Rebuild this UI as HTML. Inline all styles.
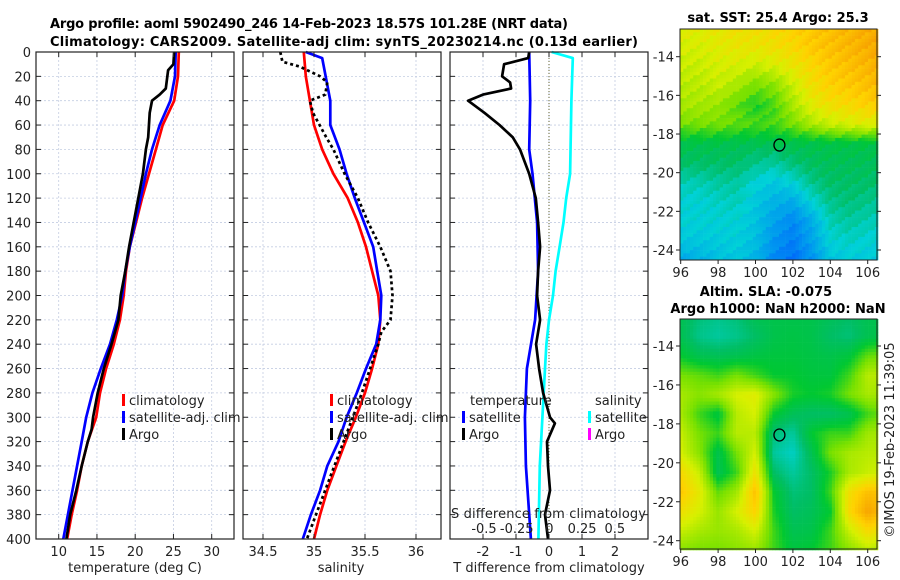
<!DOCTYPE html>
<html><head><meta charset="utf-8"><style>
html,body{margin:0;padding:0;background:#fff;}
svg{display:block;font-family:"DejaVu Sans","Liberation Sans",sans-serif;}
.tk{font-size:13px;fill:#222;}
.ttl{font-size:13px;font-weight:bold;fill:#000;}
</style></head><body>
<svg id="fig" width="900" height="580" viewBox="0 0 900 580" xmlns="http://www.w3.org/2000/svg">
<g id="grids"></g>
<g id="marks"></g>
<g id="maps"></g>
<g id="axes"></g>
<text class="ttl" x="50" y="28" textLength="518">Argo profile: aoml 5902490_246 14-Feb-2023 18.57S 101.28E (NRT data)</text>
<text class="ttl" x="50" y="46" textLength="588">Climatology: CARS2009. Satellite-adj clim: synTS_20230214.nc (0.13d earlier)</text>
<text class="ttl" x="778" y="22" text-anchor="middle">sat. SST: 25.4 Argo: 25.3</text>
<text class="ttl" x="766" y="296" text-anchor="middle">Altim. SLA: -0.075</text>
<text class="ttl" x="778" y="313" text-anchor="middle">Argo h1000: NaN h2000: NaN</text>
<text class="tk" transform="translate(894,440) rotate(-90)" text-anchor="middle">©IMOS 19-Feb-2023 11:39:05</text>
</svg>
<script>
const NS="http://www.w3.org/2000/svg";
// ---- data ----
const depths=[0,20,40,60,80,100,120,140,160,180,200,220,240,260,280,300,320,340,360,380,400];
const tempClim=[25.7,25.6,25.1,23.6,22.7,21.8,20.9,20.1,19.3,18.8,18.5,18.0,17.2,16.2,15.4,14.9,13.8,13.0,12.4,11.7,11.1];
const tempSat=[25.3,25.2,24.6,23.2,22.2,21.4,20.7,20.0,19.3,18.7,18.3,17.6,16.7,15.5,14.4,13.6,13.0,12.4,11.8,11.2,10.6];
const argoDepths=[0,10,15,30,35,40,50,70,80,100,120,140,160,180,200,220,240,260,280,300,310,320,340,360,380,400];
const tempArgo=[25.1,25.0,24.3,24.0,23.2,22.2,21.9,21.7,21.4,21.0,20.4,19.8,19.2,18.7,18.1,17.8,16.9,15.9,15.1,14.5,14.3,13.8,13.0,12.3,11.5,11.0];
const salClim=[34.90,34.92,34.96,35.00,35.08,35.19,35.33,35.43,35.51,35.57,35.63,35.65,35.63,35.57,35.50,35.41,35.31,35.22,35.13,35.06,35.00];
const salSatDepths=[0,5,40,60,80,100,120,140,160,180,200,220,240,260,280,300,320,340,360,380,400];
const salSat=[34.92,35.08,35.16,35.16,35.25,35.32,35.40,35.49,35.58,35.62,35.66,35.65,35.61,35.51,35.42,35.32,35.24,35.13,35.06,34.97,34.89];
const salArgoDepths=[0,8,12,20,25,35,40,50,70,80,100,120,140,160,180,200,220,230,240,260,280,300,320,340,360,380,400];
const salArgo=[34.67,34.69,34.86,35.06,35.13,35.11,34.96,34.99,35.12,35.19,35.30,35.43,35.53,35.65,35.75,35.77,35.75,35.66,35.63,35.55,35.47,35.38,35.29,35.20,35.11,35.02,34.93];
const tdSatDepths=[0,40,80,100,140,180,220,260,300,340,400];
const tdSat=[-0.6,-0.57,-0.6,-0.5,-0.36,-0.33,-0.42,-0.67,-0.73,-0.7,-0.55];
const tdArgoDepths=[0,5,10,20,25,30,35,40,50,60,70,80,100,120,140,160,180,200,220,240,260,280,300,305,320,340,360,380,400];
const tdArgo=[-0.6,-0.63,-1.36,-1.42,-1.18,-1.15,-2.0,-2.45,-1.95,-1.5,-1.1,-0.88,-0.6,-0.4,-0.33,-0.27,-0.33,-0.36,-0.27,-0.39,-0.3,-0.18,0.03,0.18,-0.06,-0.03,0.03,-0.12,-0.03];
const sdSatDepths=[0,5,40,100,120,140,160,180,200,220,240,260,300,340,400];
const sdSat=[0.02,0.18,0.17,0.16,0.13,0.11,0.08,0.05,0.03,0,-0.02,-0.03,-0.05,-0.07,-0.08];
const tempTicks=[10,15,20,25,30];
const salTicks=[34.5,35,35.5,36];
const tdTicks=[-2,-1,0,1,2];
const sdTickLabels=["-0.5","-0.25","0","0.25","0.5"];
const depthTicks=[0,20,40,60,80,100,120,140,160,180,200,220,240,260,280,300,320,340,360,380,400];
const lonTicks=[96,98,100,102,104,106];
const latTicks=[-14,-16,-18,-20,-22,-24];
const sstGrid=[
[0.74,0.74,0.76,0.78,0.78,0.8,0.82,0.84,0.86,0.88,0.9,0.92],
[0.72,0.72,0.74,0.76,0.76,0.78,0.8,0.84,0.86,0.88,0.9,0.92],
[0.7,0.7,0.72,0.72,0.7,0.72,0.76,0.8,0.84,0.86,0.88,0.9],
[0.68,0.68,0.7,0.66,0.6,0.62,0.7,0.78,0.82,0.84,0.86,0.88],
[0.66,0.66,0.64,0.58,0.52,0.56,0.66,0.74,0.78,0.8,0.82,0.84],
[0.6,0.6,0.6,0.58,0.56,0.56,0.6,0.66,0.7,0.72,0.74,0.7],
[0.46,0.46,0.46,0.45,0.45,0.45,0.46,0.46,0.47,0.47,0.47,0.46],
[0.42,0.42,0.42,0.42,0.38,0.36,0.4,0.43,0.44,0.44,0.44,0.43],
[0.34,0.34,0.36,0.36,0.3,0.27,0.3,0.38,0.42,0.42,0.42,0.4],
[0.3,0.3,0.32,0.33,0.27,0.22,0.2,0.3,0.38,0.4,0.38,0.36],
[0.3,0.3,0.3,0.3,0.26,0.18,0.12,0.2,0.34,0.36,0.34,0.32],
[0.27,0.27,0.28,0.29,0.25,0.15,0.1,0.18,0.3,0.32,0.3,0.3],
[0.2,0.22,0.25,0.27,0.22,0.12,0.07,0.14,0.26,0.28,0.28,0.28]];
const slaGrid=[
[0.45,0.4,0.38,0.4,0.45,0.46,0.46,0.46,0.44,0.42,0.45,0.46],
[0.45,0.38,0.36,0.38,0.42,0.46,0.47,0.46,0.42,0.4,0.45,0.47],
[0.5,0.45,0.44,0.45,0.47,0.48,0.48,0.47,0.46,0.48,0.58,0.6],
[0.6,0.58,0.55,0.6,0.55,0.5,0.5,0.48,0.48,0.55,0.68,0.68],
[0.66,0.62,0.66,0.72,0.74,0.62,0.52,0.5,0.52,0.6,0.66,0.65],
[0.66,0.55,0.48,0.68,0.72,0.5,0.44,0.42,0.42,0.45,0.55,0.6],
[0.7,0.6,0.55,0.68,0.68,0.4,0.36,0.5,0.55,0.55,0.65,0.66],
[0.72,0.62,0.46,0.6,0.72,0.36,0.32,0.45,0.6,0.66,0.68,0.68],
[0.8,0.7,0.45,0.55,0.78,0.42,0.36,0.42,0.52,0.66,0.7,0.72],
[0.84,0.75,0.58,0.65,0.86,0.5,0.4,0.42,0.55,0.78,0.86,0.84],
[0.78,0.72,0.64,0.72,0.82,0.52,0.42,0.44,0.5,0.8,0.92,0.85],
[0.7,0.66,0.64,0.66,0.72,0.55,0.45,0.46,0.55,0.7,0.8,0.75],
[0.62,0.6,0.6,0.62,0.64,0.55,0.48,0.5,0.55,0.62,0.68,0.65]];
const markerLon=101.28, markerLat=-18.57;

const Y0=52, Y1=539;
const yD=d=>Y0+(d/400)*(Y1-Y0);
const P1={x0:36,x1:234}, P2={x0:243,x1:441}, P3={x0:450,x1:648};
const xT=v=>58.7+(v-10)*7.65;
const xS=v=>314+(v-35)*102;
const xTD=v=>549+v*33;
const xSD=v=>549+v*132;

function el(tag,attrs,parent){const e=document.createElementNS(NS,tag);for(const k in attrs)e.setAttribute(k,attrs[k]);parent.appendChild(e);return e;}
const G=document.getElementById('grids'),M=document.getElementById('marks'),A=document.getElementById('axes'),MP=document.getElementById('maps');

function panel(P,xTicks,xf,labels,name){
  depthTicks.forEach(d=>{const l=el('line',{x1:P.x0,x2:P.x1,y1:yD(d),y2:yD(d),stroke:'#c4cde2','stroke-width':0.8,'stroke-dasharray':'2,2'},G);
    });
  xTicks.forEach(t=>{const l=el('line',{x1:xf(t),x2:xf(t),y1:Y0,y2:Y1,stroke:'#c4cde2','stroke-width':0.8,'stroke-dasharray':'2,2'},G);
    });
  const r=el('rect',{x:P.x0,y:Y0,width:P.x1-P.x0,height:Y1-Y0,fill:'none',stroke:'#222','stroke-width':1.2},A);
  
  depthTicks.forEach(d=>{[[P.x0,P.x0+5],[P.x1-5,P.x1]].forEach(s=>{const l=el('line',{x1:s[0],x2:s[1],y1:yD(d),y2:yD(d),stroke:'#222','stroke-width':1},A);
    });});
  xTicks.forEach((t,i)=>{[[Y1,Y1-5],[Y0,Y0+5]].forEach(s=>{const l=el('line',{x1:xf(t),x2:xf(t),y1:s[0],y2:s[1],stroke:'#222','stroke-width':1},A);
    });
    const tx=el('text',{x:xf(t),y:556,'text-anchor':'middle',class:'tk'},A);tx.textContent=labels?labels[i]:String(t);
    });
}
panel(P1,tempTicks,xT,null,'temperature-panel');
panel(P2,salTicks,xS,null,'salinity-panel');
panel(P3,tdTicks,xTD,null,'tdiff-panel');
depthTicks.forEach(d=>{const t=el('text',{x:31,y:yD(d)+5,'text-anchor':'end',class:'tk'},A);t.textContent=String(d);
  });
function lbl(x,y,s,name,anchor){const t=el('text',{x:x,y:y,'text-anchor':anchor||'middle',class:'tk'},A);t.textContent=s;
  return t;}
lbl(135,572,'temperature (deg C)','x-axis-title-temperature');
lbl(341,572,'salinity','x-axis-title-salinity');
lbl(549,572,'T difference from climatology','x-axis-title-tdiff');
{const t=lbl(451,518,'S difference from climatology','s-diff-axis-title','start');t.setAttribute('textLength','195');}
sdTickLabels.forEach((s,i)=>lbl(484+i*32.7,533,s,'s-diff-tick-label'));
{const l=el('line',{x1:xTD(0),x2:xTD(0),y1:Y0,y2:Y1,stroke:'#666633','stroke-width':1,'stroke-dasharray':'1,2'},M);
 }

function line(ds,vs,xf,color,name,dash){
  const pts=ds.map((d,i)=>xf(vs[i]).toFixed(1)+','+yD(d).toFixed(1)).join(' ');
  const p=el('polyline',{points:pts,fill:'none',stroke:color,'stroke-width':2.7,'stroke-linejoin':'round'},M);
  if(dash)p.setAttribute('stroke-dasharray',dash);
  
}
line(depths,tempClim,xT,'#ff0000','temp-climatology-line');
line(depths,tempSat,xT,'#0000ff','temp-satellite-line');
line(argoDepths,tempArgo,xT,'#000','temp-argo-line');
line(depths,salClim,xS,'#ff0000','sal-climatology-line');
line(salSatDepths,salSat,xS,'#0000ff','sal-satellite-line');
line(salArgoDepths,salArgo,xS,'#000','sal-argo-line','3,3');
line(tdSatDepths,tdSat,xTD,'#0000ff','tdiff-satellite-line');
line(sdSatDepths,sdSat,xSD,'#00ffff','sdiff-satellite-line');
line(tdArgoDepths,tdArgo,xTD,'#000','tdiff-argo-line');

function legend(x,y,items,name){
  items.forEach((it,i)=>{const yy=y+i*17;
    const r=el('rect',{x:x,y:yy-11,width:3,height:12,fill:it[0]},A);
    
    lbl(x+7,yy,it[1],name+'-entry','start');});
}
legend(122,405,[['#ff0000','climatology'],['#0000ff','satellite-adj. clim'],['#000','Argo']],'temp-legend');
legend(330,405,[['#ff0000','climatology'],['#0000ff','satellite-adj. clim'],['#000','Argo']],'sal-legend');
lbl(470,405,'temperature','tdiff-legend-title','start');
legend(462,422,[['#0000ff','satellite'],['#000','Argo']],'tdiff-legend');
lbl(595,405,'salinity','sdiff-legend-title','start');
legend(588,422,[['#00ffff','satellite'],['#ff00ff','Argo']],'sdiff-legend');

const stops=[[0,[0,80,255]],[0.15,[0,150,240]],[0.3,[0,210,215]],[0.42,[0,190,100]],[0.5,[0,200,50]],[0.6,[120,225,0]],[0.72,[215,240,0]],[0.82,[255,210,0]],[0.95,[245,150,0]],[1,[240,120,0]]];
function cmap(v){v=Math.max(0,Math.min(1,v));for(let i=1;i<stops.length;i++){if(v<=stops[i][0]){const a=stops[i-1],b=stops[i],t=(v-a[0])/(b[0]-a[0]);
  return 'rgb('+a[1].map((c,k)=>Math.round(c+(b[1][k]-c)*t)).join(',')+')';}}return 'rgb(240,120,0)';}
function samp(g,r,c){const R=g.length-1,C=g[0].length-1;r=Math.max(0,Math.min(R,r));c=Math.max(0,Math.min(C,c));
  const r0=Math.floor(r),c0=Math.floor(c),r1=Math.min(R,r0+1),c1=Math.min(C,c0+1),fr=r-r0,fc=c-c0;
  return (g[r0][c0]*(1-fc)+g[r0][c1]*fc)*(1-fr)+(g[r1][c0]*(1-fc)+g[r1][c1]*fc)*fr;}
function drawMap(g,mx0,mx1,my0,my1,lonX,latY,latTop,cell,name,jit){
  const grp=el('g',{},MP);
  let k=0;
  for(let y=my0;y<my1;y+=cell){for(let x=mx0;x<mx1;x+=cell){
    const lon=96+(x+cell/2-lonX(96))/(lonX(98)-lonX(96))*2;
    const lat=-14-(y+cell/2-latY(-14))/(latY(-16)-latY(-14))*2;
    let v=samp(g,(latTop-lat),lon-96);
    if(jit){k++;v+=((k*7919)%13-6)*0.004;}
    el('rect',{x:x,y:y,width:cell+0.3,height:cell+0.3,fill:cmap(v)},grp);}}
  const f=el('rect',{x:mx0,y:my0,width:mx1-mx0,height:my1-my0,fill:'none',stroke:'#222','stroke-width':1},A);
  
  lonTicks.forEach(t=>{const x=lonX(t);el('line',{x1:x,x2:x,y1:my1,y2:my1+4,stroke:'#222'},A);lbl(x,my1+17,String(t),name+'-lon-label');});
  latTicks.forEach(t=>{const y=latY(t);el('line',{x1:mx0-4,x2:mx0,y1:y,y2:y,stroke:'#222'},A);el('line',{x1:mx1,x2:mx1+4,y1:y,y2:y,stroke:'#222'},A);
    lbl(mx0-6,y+5,String(t),name+'-lat-label','end');});
  const c=el('ellipse',{cx:lonX(markerLon),cy:latY(markerLat),rx:5.5,ry:6,fill:'none',stroke:'#000','stroke-width':1.3},MP);
  
}
const lonX=l=>680.7+(l-96)*18.7;
drawMap(sstGrid,680,877,29,260,lonX,l=>56.7+(-14-l)*19.33,-12.5,3.3,'sst-map',true);
drawMap(slaGrid,680,877,319,549,lonX,l=>346+(-14-l)*19.47,-12.5,3.3,'sla-map',false);
</script>
</body></html>
